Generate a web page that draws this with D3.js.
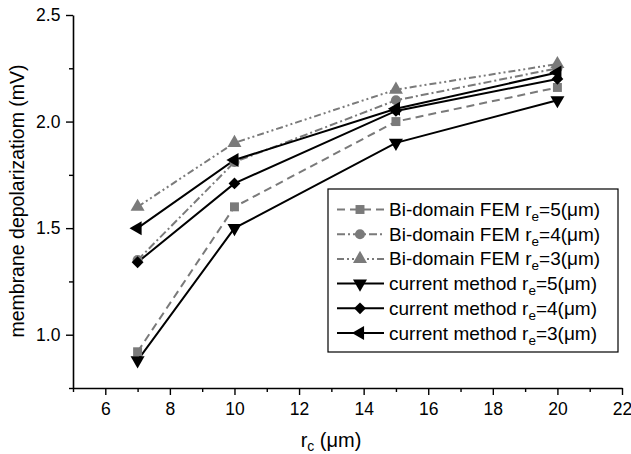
<!DOCTYPE html>
<html><head><meta charset="utf-8">
<script src="https://cdn.jsdelivr.net/npm/d3@7"></script>
<style>body{margin:0;background:#fff}svg{display:block}text{font-family:"Liberation Sans",Arial,sans-serif}</style>
</head><body>
<svg id="c" width="631" height="454"></svg>
<script>
const xValues = [7, 10, 15, 20];
const femRe5 = [0.92, 1.60, 2.00, 2.16];
const femRe4 = [1.35, 1.81, 2.10, 2.25];
const femRe3 = [1.60, 1.90, 2.15, 2.27];
const curRe5 = [0.88, 1.50, 1.90, 2.10];
const curRe4 = [1.34, 1.71, 2.05, 2.20];
const curRe3 = [1.50, 1.82, 2.06, 2.23];
const seriesNames = ["Bi-domain FEM r", "Bi-domain FEM r", "Bi-domain FEM r", "current method r", "current method r", "current method r"];
const seriesRe = ["5", "4", "3", "5", "4", "3"];
const xTicks = [6, 8, 10, 12, 14, 16, 18, 20, 22];
const yTicks = [1.0, 1.5, 2.0, 2.5];

const svg = d3.select("#c");
const x = d3.scaleLinear().domain([5, 22]).range([73, 622]);
const y = d3.scaleLinear().domain([0.75, 2.5]).range([388, 15]);

const gray = "#7a7a7a";
const styles = [
  {data: femRe5, color: gray, dash: "8,5", sym: d3.symbolSquare, size: 80, rot: 0},
  {data: femRe4, color: gray, dash: "8,3,2,3", sym: d3.symbolCircle, size: 80, rot: 0},
  {data: femRe3, color: gray, dash: "7,3,2,3,2,3", sym: d3.symbolTriangle, size: 85, rot: 0},
  {data: curRe5, color: "#000", dash: null, sym: d3.symbolTriangle, size: 85, rot: 180},
  {data: curRe4, color: "#000", dash: null, sym: d3.symbolSquare, size: 70, rot: 45},
  {data: curRe3, color: "#000", dash: null, sym: d3.symbolTriangle, size: 85, rot: -90}
];

// axes
const xAxis = svg.append("g").attr("transform", "translate(0,388)")
  .call(d3.axisBottom(x).tickValues(xTicks).tickSize(7).tickSizeOuter(0).tickFormat(d3.format("d")));
svg.append("g").attr("transform", "translate(0,388)")
  .call(d3.axisBottom(x).tickValues(d3.range(5, 22, 2)).tickSize(4).tickSizeOuter(0).tickFormat(""))
  .select(".domain").remove();
const yAxis = svg.append("g").attr("transform", "translate(73,0)")
  .call(d3.axisLeft(y).tickValues(yTicks).tickSize(7).tickSizeOuter(0).tickFormat(d3.format(".1f")));
svg.append("g").attr("transform", "translate(73,0)")
  .call(d3.axisLeft(y).tickValues([0.75, 1.25, 1.75, 2.25]).tickSize(4).tickSizeOuter(0).tickFormat(""))
  .select(".domain").remove();
svg.selectAll(".domain").attr("stroke", "#000").attr("stroke-width", 1.6);
svg.selectAll(".tick line").attr("stroke", "#000").attr("stroke-width", 1.4);
xAxis.selectAll(".tick text").attr("font-size", 17.5).attr("fill", "#000").attr("dy", "0.95em");
yAxis.selectAll(".tick text").attr("font-size", 17.5).attr("fill", "#000").attr("dx", "-0.15em");

// axis titles
const xt = svg.append("text").attr("x", 331).attr("y", 447).attr("text-anchor", "middle").attr("font-size", 20);
xt.append("tspan").text("r");
xt.append("tspan").attr("font-size", 14).attr("dy", 4).text("c");
xt.append("tspan").attr("dy", -4).text(" (μm)");
svg.append("text").attr("transform", "translate(24,201) rotate(-90)").attr("text-anchor", "middle")
  .attr("font-size", 19.5).text("membrane depolarizatiom (mV)");

// lines
const line = d3.line().x((d, i) => x(xValues[i])).y(d => y(d));
styles.forEach(s => {
  svg.append("path").datum(s.data).attr("d", line).attr("fill", "none")
    .attr("stroke", s.color).attr("stroke-width", 2).attr("stroke-dasharray", s.dash);
});
styles.forEach(s => {
  svg.append("g").selectAll("path").data(s.data).join("path")
    .attr("d", d3.symbol().type(s.sym).size(s.size))
    .attr("transform", (d, i) => `translate(${x(xValues[i])},${y(d)}) rotate(${s.rot})`)
    .attr("fill", s.color);
});

// legend
const lg = svg.append("g");
lg.append("rect").attr("x", 328).attr("y", 189).attr("width", 290).attr("height", 163)
  .attr("fill", "#fff").attr("stroke", "#000").attr("stroke-width", 1.2);
styles.forEach((s, i) => {
  const cy = 209.5 + i * 24.7;
  lg.append("line").attr("x1", 337).attr("x2", 384).attr("y1", cy).attr("y2", cy)
    .attr("stroke", s.color).attr("stroke-width", 2).attr("stroke-dasharray", s.dash);
  lg.append("path").attr("d", d3.symbol().type(s.sym).size(s.size))
    .attr("transform", `translate(360,${cy}) rotate(${s.rot})`).attr("fill", s.color);
  const t = lg.append("text").attr("x", 389).attr("y", cy + 6.5).attr("font-size", 19).attr("fill", "#000");
  t.append("tspan").text(seriesNames[i]);
  t.append("tspan").attr("font-size", 13.5).attr("dy", 5).text("e");
  t.append("tspan").attr("dy", -5).text("=" + seriesRe[i] + "(μm)");
});
</script>
</body></html>
